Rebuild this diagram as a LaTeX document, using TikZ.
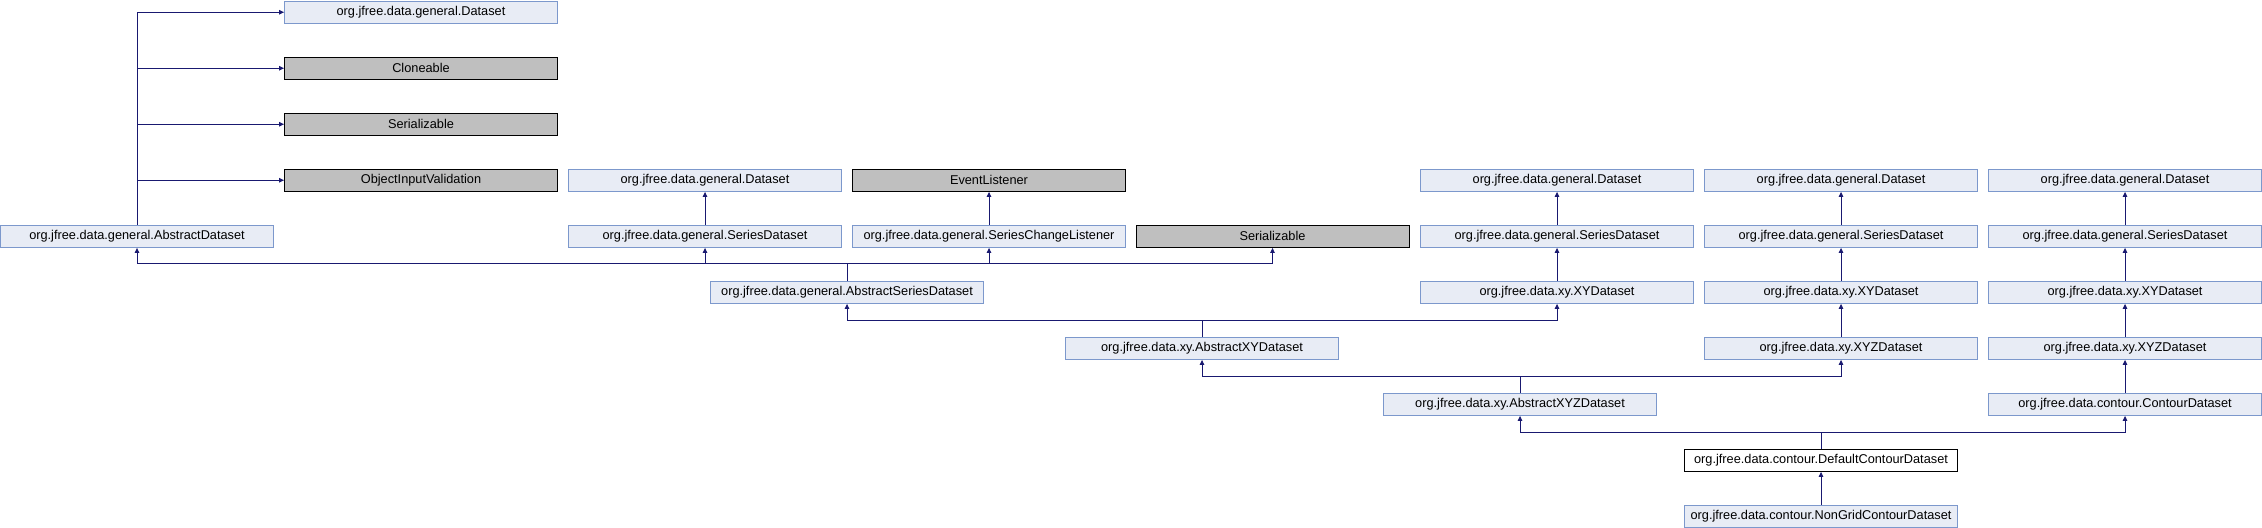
\documentclass[tikz,border=0pt]{standalone}
\usepackage{fontspec}
\setmainfont{Liberation Sans}
\usepackage{xcolor}
\usepackage{tikz}
\usetikzlibrary{arrows.meta}
\definecolor{edgeblue}{RGB}{25,25,112}
\definecolor{clsfill}{RGB}{232,236,245}
\definecolor{clsdraw}{RGB}{124,152,204}
\definecolor{extfill}{RGB}{191,191,191}

\begin{document}
\begin{tikzpicture}[x=1bp, y=-1bp,
    cls/.style={draw=clsdraw, fill=clsfill, line width=0.8bp, minimum width=273bp, minimum height=22.5bp, inner sep=0pt, font=\fontsize{12.8}{14}\selectfont},
    ext/.style={cls, draw=black, fill=extfill},
    self/.style={cls, draw=black, fill=white},
    edge/.style={draw=edgeblue, line width=1bp, -{Triangle[length=5bp,width=4.5bp]}},
    bus/.style={draw=edgeblue, line width=1bp}]
    \useasboundingbox (0,0) rectangle (2262,528);

    % Left column
    \node [cls] (dsTop) at (421,12.25) {org.jfree.data.general.Dataset};
    \node [ext] (cloneable) at (421,68.25) {Cloneable};
    \node [ext] (serialA) at (421,124.25) {Serializable};
    \node [ext] (oiv) at (421,180.25) {ObjectInputValidation};
    \node [cls] (absDs) at (137,236.25) {org.jfree.data.general.AbstractDataset};

    % Series datasets
    \node [cls] (dsB) at (705,180.25) {org.jfree.data.general.Dataset};
    \node [ext] (evt) at (989,180.25) {EventListener};
    \node [cls] (serDsB) at (705,236.25) {org.jfree.data.general.SeriesDataset};
    \node [cls] (scl) at (989,236.25) {org.jfree.data.general.SeriesChangeListener};
    \node [ext] (serialB) at (1272.5,236.25) {Serializable};
    \node [cls] (absSer) at (847,292.25) {org.jfree.data.general.AbstractSeriesDataset};
    \node [cls] (absXY) at (1202,348.25) {org.jfree.data.xy.AbstractXYDataset};
    \node [cls] (absXYZ) at (1520,404.25) {org.jfree.data.xy.AbstractXYZDataset};

    % Right columns
    \node [cls] (dsC1) at (1557,180.25) {org.jfree.data.general.Dataset};
    \node [cls] (serC1) at (1557,236.25) {org.jfree.data.general.SeriesDataset};
    \node [cls] (xyC1) at (1557,292.25) {org.jfree.data.xy.XYDataset};
    \node [cls] (dsC2) at (1841,180.25) {org.jfree.data.general.Dataset};
    \node [cls] (serC2) at (1841,236.25) {org.jfree.data.general.SeriesDataset};
    \node [cls] (xyC2) at (1841,292.25) {org.jfree.data.xy.XYDataset};
    \node [cls] (xyzC2) at (1841,348.25) {org.jfree.data.xy.XYZDataset};
    \node [cls] (dsC3) at (2125,180.25) {org.jfree.data.general.Dataset};
    \node [cls] (serC3) at (2125,236.25) {org.jfree.data.general.SeriesDataset};
    \node [cls] (xyC3) at (2125,292.25) {org.jfree.data.xy.XYDataset};
    \node [cls] (xyzC3) at (2125,348.25) {org.jfree.data.xy.XYZDataset};
    \node [cls] (contC3) at (2125,404.25) {org.jfree.data.contour.ContourDataset};

    % Contour datasets
    \node [self] (dflt) at (1821,460.25) {org.jfree.data.contour.DefaultContourDataset};
    \node [cls] (nonGrid) at (1821,516.25) {org.jfree.data.contour.NonGridContourDataset};

    % Bus junctions
    \coordinate (busSer) at (847,264);
    \coordinate (busXY) at (1202,320);
    \coordinate (busXYZ) at (1520,376);
    \coordinate (busDflt) at (1821,432);

    % AbstractDataset
    \draw [edge] (absDs.north) |- (dsTop.west);
    \draw [edge] (absDs.north) |- (cloneable.west);
    \draw [edge] (absDs.north) |- (serialA.west);
    \draw [edge] (absDs.north) |- (oiv.west);

    % AbstractSeriesDataset
    \draw [bus] (absSer.north) -- (busSer);
    \draw [edge] (busSer) -| (absDs.south);
    \draw [edge] (busSer) -| (serDsB.south);
    \draw [edge] (busSer) -| (scl.south);
    \draw [edge] (busSer) -| (serialB.south);
    \draw [edge] (serDsB) -- (dsB);
    \draw [edge] (scl) -- (evt);

    % AbstractXYDataset
    \draw [bus] (absXY.north) -- (busXY);
    \draw [edge] (busXY) -| (absSer.south);
    \draw [edge] (busXY) -| (xyC1.south);
    \draw [edge] (xyC1) -- (serC1);
    \draw [edge] (serC1) -- (dsC1);

    % AbstractXYZDataset
    \draw [bus] (absXYZ.north) -- (busXYZ);
    \draw [edge] (busXYZ) -| (absXY.south);
    \draw [edge] (busXYZ) -| (xyzC2.south);
    \draw [edge] (xyzC2) -- (xyC2);
    \draw [edge] (xyC2) -- (serC2);
    \draw [edge] (serC2) -- (dsC2);

    % DefaultContourDataset
    \draw [bus] (dflt.north) -- (busDflt);
    \draw [edge] (busDflt) -| (absXYZ.south);
    \draw [edge] (busDflt) -| (contC3.south);
    \draw [edge] (contC3) -- (xyzC3);
    \draw [edge] (xyzC3) -- (xyC3);
    \draw [edge] (xyC3) -- (serC3);
    \draw [edge] (serC3) -- (dsC3);
    \draw [edge] (nonGrid) -- (dflt);
\end{tikzpicture}
\end{document}
